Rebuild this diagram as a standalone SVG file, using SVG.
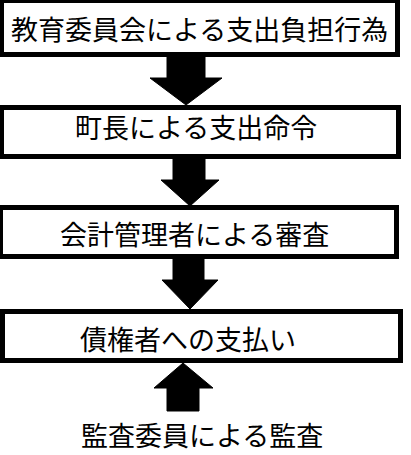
<svg xmlns="http://www.w3.org/2000/svg" width="411" height="455" viewBox="0 0 411 455">
<style>
.box{fill:#fff;stroke:#000;stroke-width:5}
.lbl{font-family:"Noto Sans CJK JP","Noto Sans CJK SC",sans-serif;font-size:27px;fill:#000}
.arr{fill:#000;stroke:#000;stroke-width:1;stroke-linejoin:round}
</style>
<rect width="411" height="455" fill="#fff"/>
<g id="connectors">
<polygon class="arr" points="167,55 205,55 205,78 222,78 186,105 150,78 167,78"/>
<polygon class="arr" points="173,157 205,157 205,180 219,180 190,206 161,180 173,180"/>
<polygon class="arr" points="173,257 204,257 204,280 218,280 190,309 162,280 173,280"/>
<polygon class="arr" points="183,363 213,388 199,388 199,411 167,411 167,388 154,388"/>
</g>
<g id="node1">
<rect class="box" x="1.5" y="0.5" width="396" height="54"/>
<text class="lbl" x="11" y="40">教育委員会による支出負担行為</text>
</g>
<g id="node2">
<rect class="box" x="1.5" y="107.5" width="397" height="49"/>
<text class="lbl" x="75" y="138">町長による支出命令</text>
</g>
<g id="node3">
<rect class="box" x="0.5" y="207.5" width="396" height="49"/>
<text class="lbl" x="60" y="245">会計管理者による審査</text>
</g>
<g id="node4">
<rect class="box" x="2.5" y="311.5" width="398" height="49"/>
<text class="lbl" x="80" y="350">債権者への支払い</text>
</g>
<g id="node5">
<text class="lbl" x="81" y="446">監査委員による監査</text>
</g>
</svg>
